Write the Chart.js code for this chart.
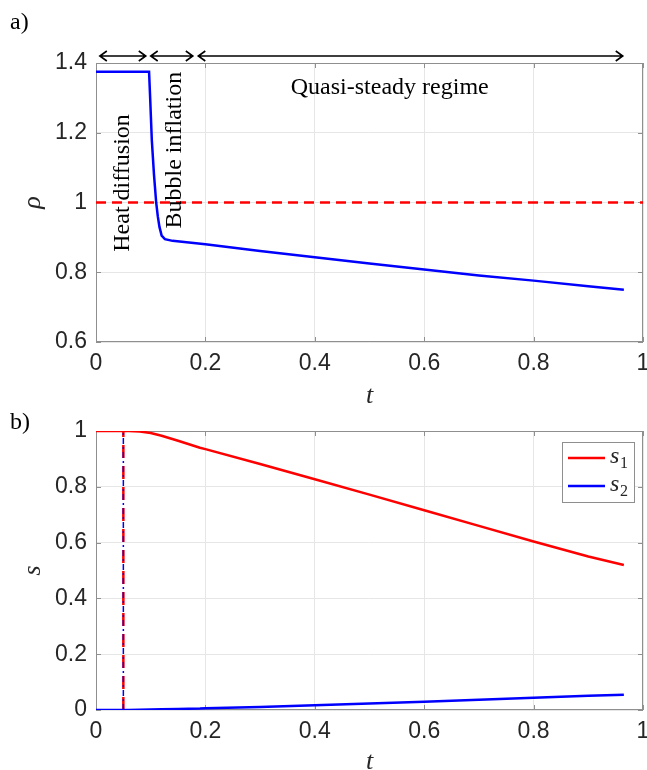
<!DOCTYPE html>
<html>
<head>
<meta charset="utf-8">
<script src="https://cdn.jsdelivr.net/npm/chart.js@4.4.1/dist/chart.umd.min.js"></script>
<style>
    html, body { margin: 0; padding: 0; background: #fff; }
    #wrapA { position: absolute; left: 0; top: 0; width: 647px; height: 420px; }
    #wrapB { position: absolute; left: 0; top: 400px; width: 647px; height: 370px; }
</style>
</head>
<body>
<div id="wrapA"><canvas id="rhoChart" width="647" height="420"></canvas></div>
<div id="wrapB"><canvas id="sChart" width="647" height="370"></canvas></div>
<script>
// panel a) density
const tRho = [0, 0.097, 0.099, 0.102, 0.106, 0.110, 0.113, 0.116, 0.120, 0.126, 0.140, 0.200, 0.300, 0.400, 0.500, 0.600, 0.700, 0.800, 0.900, 0.965];
const rhoValues = [1.375, 1.375, 1.30, 1.18, 1.08, 1.00, 0.96, 0.93, 0.905, 0.895, 0.890, 0.880, 0.861, 0.843, 0.825, 0.808, 0.791, 0.776, 0.760, 0.750];
const rhoRef = 1;
const rhoTicks = [0.6, 0.8, 1, 1.2, 1.4];

// regime arrows + labels (data units)
const arrowFrom = [0.007, 0.100, 0.187];
const arrowTo = [0.091, 0.177, 0.963];
const arrowRho = 1.42;
const regimeText = ['Heat diffusion', 'Bubble inflation', 'Quasi-steady regime'];
const regimeT = [0.048, 0.144, 0.537];
const regimeRho = [1.056, 1.15, 1.328];
const regimeRotated = [true, true, false];

// panel b) s1, s2
const tS = [0, 0.06, 0.08, 0.10, 0.12, 0.15, 0.19, 0.20, 0.30, 0.40, 0.50, 0.60, 0.70, 0.80, 0.90, 0.965];
const s1Values = [1, 1, 0.998, 0.993, 0.983, 0.965, 0.940, 0.935, 0.882, 0.827, 0.772, 0.716, 0.660, 0.604, 0.550, 0.520];
const s2Values = [0, 0, 0.001, 0.002, 0.003, 0.004, 0.005, 0.006, 0.011, 0.017, 0.023, 0.030, 0.037, 0.044, 0.051, 0.055];
const switchT = 0.05;
const sTicks = [0, 0.2, 0.4, 0.6, 0.8, 1];
const tTicks = [0, 0.2, 0.4, 0.6, 0.8, 1];
const legendNames = ['s', 's'];
const legendSubs = ['1', '2'];

const tickFont = { family: 'Liberation Sans, Arial, sans-serif', size: 23 };
const tickColor = '#262626';
const serif = '"Liberation Serif", "Times New Roman", serif';

function pairs(xs, ys) {
    return xs.map((x, i) => ({ x: x, y: ys[i] }));
}

function scalesFor(yMin, yMax, yTickList, xHeight) {
    return {
        x: {
            type: 'linear', min: 0, max: 1,
            afterBuildTicks: s => { s.ticks = tTicks.map(v => ({ value: v })); },
            ticks: { font: tickFont, color: tickColor, padding: 8, maxRotation: 0, autoSkip: false, callback: v => String(v) },
            grid: { color: '#e6e6e6', drawTicks: false },
            border: { display: false },
            afterFit: s => { s.height = xHeight; s.paddingLeft = 0; s.paddingRight = 0; }
        },
        y: {
            type: 'linear', min: yMin, max: yMax,
            afterBuildTicks: s => { s.ticks = yTickList.map(v => ({ value: v })); },
            ticks: { font: tickFont, color: tickColor, padding: 9, autoSkip: false, callback: v => String(v) },
            grid: { color: '#e6e6e6', drawTicks: false },
            border: { display: false },
            afterFit: s => { s.width = 96; s.paddingTop = 0; s.paddingBottom = 0; }
        }
    };
}

// box with inward ticks, like the MATLAB axes
const framePlugin = {
    id: 'frame',
    beforeDatasetsDraw(chart) {
        const { ctx, chartArea: a, scales } = chart;
        ctx.save();
        ctx.strokeStyle = '#8f8f8f';
        ctx.lineWidth = 1;
        ctx.strokeRect(a.left + 0.5, a.top + 0.5, a.right - a.left - 1, a.bottom - a.top - 1);
        ctx.beginPath();
        scales.x.ticks.forEach(t => {
            const px = Math.round(scales.x.getPixelForValue(t.value)) + 0.5;
            ctx.moveTo(px, a.bottom); ctx.lineTo(px, a.bottom - 5);
            ctx.moveTo(px, a.top); ctx.lineTo(px, a.top + 5);
        });
        scales.y.ticks.forEach(t => {
            const py = Math.round(scales.y.getPixelForValue(t.value)) + 0.5;
            ctx.moveTo(a.left, py); ctx.lineTo(a.left + 5, py);
            ctx.moveTo(a.right, py); ctx.lineTo(a.right - 5, py);
        });
        ctx.stroke();
        ctx.restore();
    }
};

function drawTitles(chart, panel, yName, tY) {
    const { ctx, chartArea: a } = chart;
    ctx.save();
    ctx.fillStyle = '#000';
    ctx.textBaseline = 'middle';
    ctx.textAlign = 'left';
    ctx.font = '24px ' + serif;
    ctx.fillText(panel, 10, 23);
    ctx.fillStyle = '#262626';
    ctx.font = 'italic 26px ' + serif;
    ctx.textAlign = 'center';
    ctx.fillText('t', (a.left + a.right) / 2, tY);
    ctx.translate(33, (a.top + a.bottom) / 2);
    ctx.rotate(-Math.PI / 2);
    ctx.fillText(yName, 0, 0);
    ctx.restore();
}

function drawArrow(ctx, x1, x2, y) {
    ctx.beginPath();
    ctx.moveTo(x1, y); ctx.lineTo(x2, y);
    ctx.moveTo(x1 + 7, y - 5); ctx.lineTo(x1, y); ctx.lineTo(x1 + 7, y + 5);
    ctx.moveTo(x2 - 7, y - 5); ctx.lineTo(x2, y); ctx.lineTo(x2 - 7, y + 5);
    ctx.stroke();
}

const rhoNotes = {
    id: 'rhoNotes',
    afterDraw(chart) {
        const { ctx, scales } = chart;
        drawTitles(chart, 'a)', 'ρ', 396);
        ctx.save();
        ctx.strokeStyle = '#000';
        ctx.lineWidth = 1.6;
        const ay = scales.y.getPixelForValue(arrowRho);
        arrowFrom.forEach((t0, i) => {
            drawArrow(ctx, scales.x.getPixelForValue(t0), scales.x.getPixelForValue(arrowTo[i]), ay);
        });
        ctx.fillStyle = '#000';
        ctx.font = '24px ' + serif;
        ctx.textAlign = 'center';
        ctx.textBaseline = 'middle';
        regimeText.forEach((txt, i) => {
            const px = scales.x.getPixelForValue(regimeT[i]);
            const py = scales.y.getPixelForValue(regimeRho[i]);
            ctx.save();
            ctx.translate(px, py);
            if (regimeRotated[i]) ctx.rotate(-Math.PI / 2);
            ctx.fillText(txt, 0, 0);
            ctx.restore();
        });
        ctx.restore();
    }
};

const sNotes = {
    id: 'sNotes',
    afterDraw(chart) {
        const { ctx } = chart;
        drawTitles(chart, 'b)', 's', 362);
        // legend box
        ctx.save();
        ctx.fillStyle = '#fff';
        ctx.fillRect(562, 42, 72, 60);
        ctx.strokeStyle = '#8f8f8f';
        ctx.lineWidth = 1;
        ctx.strokeRect(562.5, 42.5, 72, 60);
        const cols = [chart.data.datasets[0].borderColor, chart.data.datasets[1].borderColor];
        legendNames.forEach((name, i) => {
            const y = 58 + i * 28;
            ctx.strokeStyle = cols[i];
            ctx.lineWidth = 2.5;
            ctx.beginPath();
            ctx.moveTo(568, y); ctx.lineTo(605, y);
            ctx.stroke();
            ctx.fillStyle = '#262626';
            ctx.textBaseline = 'alphabetic';
            ctx.textAlign = 'left';
            ctx.font = 'italic 24px ' + serif;
            ctx.fillText(name, 610, y + 5);
            ctx.font = '16px ' + serif;
            ctx.fillText(legendSubs[i], 620, y + 10);
        });
        ctx.restore();
    }
};

new Chart(document.getElementById('rhoChart').getContext('2d'), {
    type: 'scatter',
    data: {
        datasets: [{
            label: 'rho',
            data: pairs(tRho, rhoValues),
            showLine: true,
            borderColor: '#0000ff',
            borderWidth: 2.5,
            pointRadius: 0,
            tension: 0
        }, {
            label: 'ref',
            data: pairs([0, 1], [rhoRef, rhoRef]),
            showLine: true,
            borderColor: '#ff0000',
            borderWidth: 2.5,
            borderDash: [10, 6],
            pointRadius: 0
        }]
    },
    options: {
        responsive: false,
        animation: false,
        layout: { padding: { top: 63, right: 4, left: 0, bottom: 0 } },
        plugins: { legend: { display: false }, tooltip: { enabled: false } },
        scales: scalesFor(0.6, 1.4, rhoTicks, 78)
    },
    plugins: [framePlugin, rhoNotes]
});

new Chart(document.getElementById('sChart').getContext('2d'), {
    type: 'scatter',
    data: {
        datasets: [{
            label: 's1',
            data: pairs(tS, s1Values),
            showLine: true,
            borderColor: '#ff0000',
            borderWidth: 2.5,
            pointRadius: 0,
            tension: 0
        }, {
            label: 's2',
            data: pairs(tS, s2Values),
            showLine: true,
            borderColor: '#0000ff',
            borderWidth: 2.5,
            pointRadius: 0,
            tension: 0
        }, {
            label: 'switch blue',
            data: pairs([switchT, switchT], [0, 1]),
            showLine: true,
            borderColor: '#0000ff',
            borderWidth: 1.5,
            borderDash: [6, 3, 2, 3],
            pointRadius: 0
        }, {
            label: 'switch red',
            data: pairs([switchT, switchT], [0, 1]),
            showLine: true,
            borderColor: '#ff0000',
            borderWidth: 2.5,
            borderDash: [13, 8],
            pointRadius: 0
        }]
    },
    options: {
        responsive: false,
        animation: false,
        layout: { padding: { top: 31, right: 4, left: 0, bottom: 0 } },
        plugins: { legend: { display: false }, tooltip: { enabled: false } },
        scales: scalesFor(0, 1, sTicks, 60)
    },
    plugins: [framePlugin, sNotes]
});
</script>
</body>
</html>
